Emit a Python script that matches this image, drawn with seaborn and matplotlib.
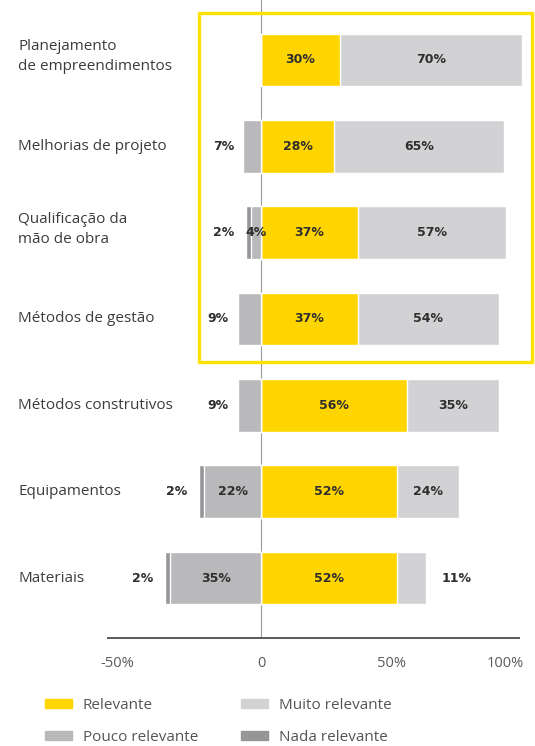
import matplotlib
matplotlib.use("Agg")
import matplotlib.pyplot as plt
import seaborn as sns
import pandas as pd
from matplotlib.patches import Rectangle, Patch
from matplotlib.transforms import ScaledTranslation

# Survey answers per improvement area (% of respondents)
categories = [
    "Planejamento\nde empreendimentos",
    "Melhorias de projeto",
    "Qualificação da\nmão de obra",
    "Métodos de gestão",
    "Métodos construtivos",
    "Equipamentos",
    "Materiais",
]
relevante = [30, 28, 37, 37, 56, 52, 52]
muito_relevante = [70, 65, 57, 54, 35, 24, 11]
pouco_relevante = [0, 7, 4, 9, 9, 22, 35]
nada_relevante = [0, 0, 2, 0, 0, 2, 2]
tick_values = [-50, 0, 50, 100]
tick_labels = ["-50%", "0", "50%", "100%"]

YELLOW = "#FFD500"
BOX_YELLOW = "#FFE200"
LIGHT = "#D2D2D4"
MID = "#B9B9BC"
DARK = "#969698"
TXT = "#3c3c3c"

sns.set_theme(style="white")
plt.rcParams["font.family"] = ["Open Sans", "DejaVu Sans"]

df = pd.DataFrame({
    "cat": categories,
    "rel": relevante,
    "muito": muito_relevante,
    "pouco": pouco_relevante,
    "nada": nada_relevante,
})
df["pos_total"] = df["rel"] + df["muito"]
df["neg_total"] = -(df["pouco"] + df["nada"])
df["neg_pouco"] = -df["pouco"]

fig = plt.figure(figsize=(5.35, 7.46), dpi=100)
ax = fig.add_axes([105 / 535, 108 / 746, 417 / 535, 638 / 746])

bw = 0.61
sns.barplot(data=df, x="pos_total", y="cat", orient="h", color=LIGHT,
            width=bw, saturation=1, ax=ax)
sns.barplot(data=df, x="rel", y="cat", orient="h", color=YELLOW,
            width=bw, saturation=1, ax=ax)
sns.barplot(data=df, x="neg_total", y="cat", orient="h", color=DARK,
            width=bw, saturation=1, ax=ax)
sns.barplot(data=df, x="neg_pouco", y="cat", orient="h", color=MID,
            width=bw, saturation=1, ax=ax)

ax.set_xlim(-60, 100)
ax.set_ylim(6.694, -0.694)
ax.set_xlabel("")
ax.set_ylabel("")
ax.set_yticks([])
ax.set_xticks(tick_values)
ax.set_xticklabels(tick_labels, fontsize=10.5, color="#5a5a5a")
ax.tick_params(axis="x", length=0, pad=13)
# nudge the outer tick labels inward
shifts = {"-50%": -14, "100%": -17}
for t in ax.get_xticklabels():
    dx = shifts.get(t.get_text(), 0)
    if dx:
        t.set_transform(t.get_transform() + ScaledTranslation(dx / 100, 0, fig.dpi_scale_trans))
for side in ["top", "right", "left"]:
    ax.spines[side].set_visible(False)
ax.spines["bottom"].set_color("#5a5a5a")
ax.spines["bottom"].set_linewidth(1.4)
ax.spines["bottom"].set_bounds(-59, 99)

# zero reference line
ax.axvline(0, color="#9a9a9a", lw=0.8, zorder=0.5)

# category labels on the left (two-line labels sit slightly higher)
for i, c in enumerate(categories):
    yy = i - 0.035 if "\n" in c else i
    ax.text(-93.2, yy, c, ha="left", va="center", fontsize=11,
            color=TXT, linespacing=1.45, clip_on=False)

lab = dict(fontsize=9, fontweight="bold", color="#2e2e2e", va="center",
           family="DejaVu Sans")
for i in range(len(categories)):
    r, m, p, n = relevante[i], muito_relevante[i], pouco_relevante[i], nada_relevante[i]
    ax.text(r / 2, i, f"{r}%", ha="center", **lab)
    if m >= 15:
        ax.text(r + m / 2, i, f"{m}%", ha="center", **lab)
    else:
        ax.text(r + m + 6, i, f"{m}%", ha="left", **lab)
    if p > 0:
        if n == 0 and p < 10:
            ax.text(-p - 3.5, i, f"{p}%", ha="right", **lab)
        else:
            ax.text(-p / 2, i, f"{p}%", ha="center", **lab)
    if n > 0:
        ax.text(-p - n - 4.5, i, f"{n}%", ha="right", **lab)

# highlight frame around the management-related areas
ax.add_patch(Rectangle((-24.0, -0.545), 128.0, 4.04, fill=False,
                       edgecolor=BOX_YELLOW, lw=2.4, clip_on=False, zorder=5))

handles = [Patch(color=YELLOW), Patch(color=LIGHT), Patch(color=MID), Patch(color=DARK)]
names = ["Relevante", "Muito relevante", "Pouco relevante", "Nada relevante"]
order = [0, 2, 1, 3]
leg = fig.legend([handles[k] for k in order], [names[k] for k in order],
                 ncol=2, loc="upper left", bbox_to_anchor=(45 / 535, 1 - 698 / 746),
                 frameon=False, fontsize=11, handlelength=1.76, handleheight=0.55,
                 columnspacing=2.8, labelspacing=1.1, handletextpad=0.72,
                 borderpad=0, borderaxespad=0, labelcolor="#555555")

fig.savefig("out.png", dpi=100)
